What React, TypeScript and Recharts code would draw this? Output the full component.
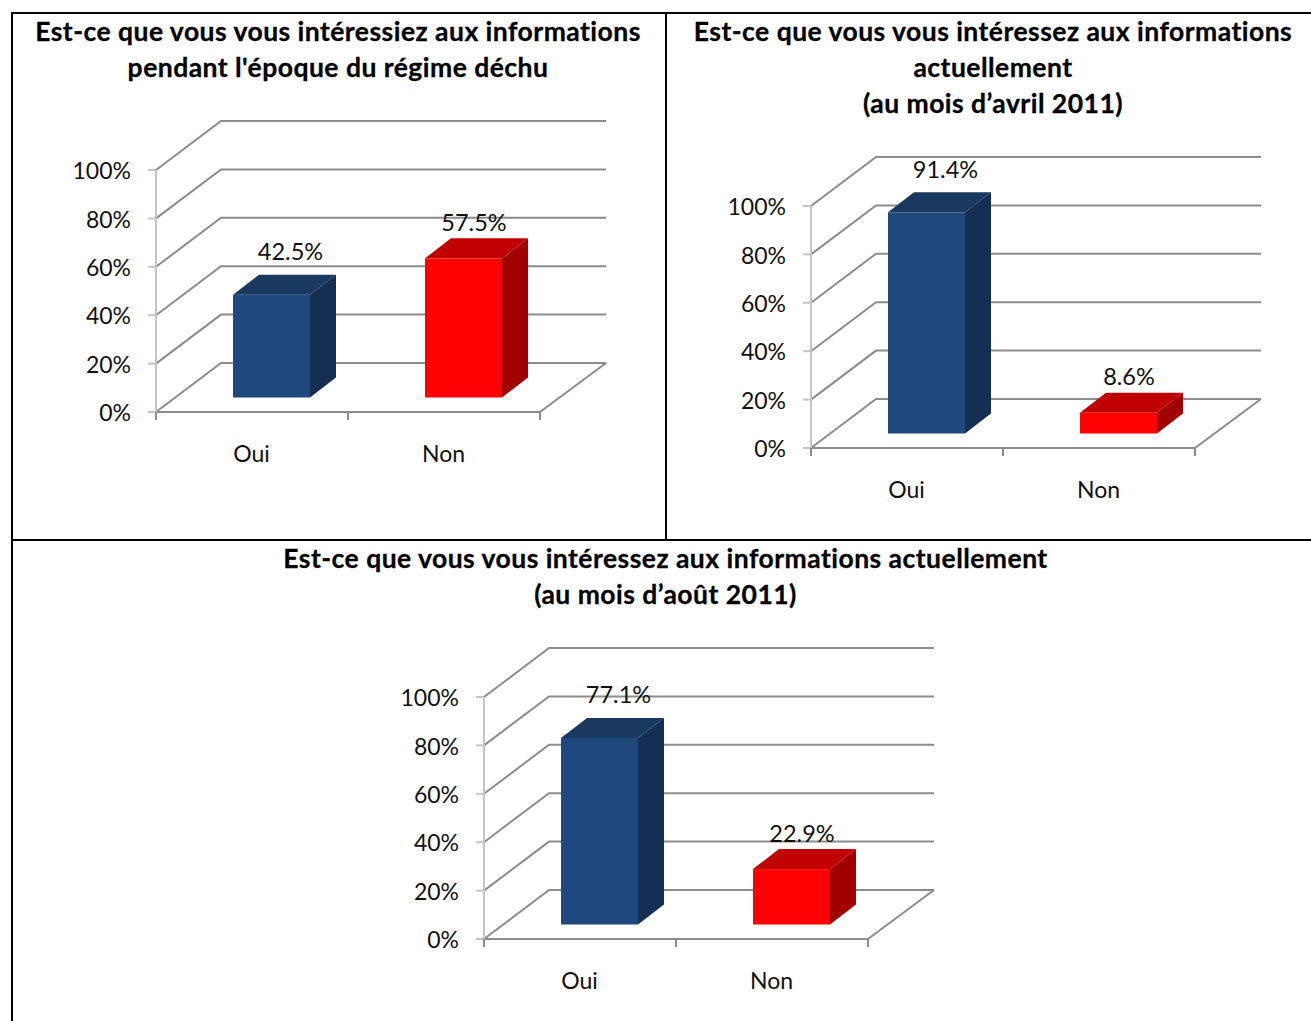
import React from "react";
import { BarChart, Bar, XAxis, YAxis, CartesianGrid, LabelList } from "recharts";

const categories = ["Oui", "Non"];
const avantValues = [42.5, 57.5];
const avrilValues = [91.4, 8.6];
const aoutValues = [77.1, 22.9];
const yTicks = [0, 20, 40, 60, 80, 100];

const titleAvant = ["Est-ce que vous vous intéressiez aux informations", "pendant l'époque du régime déchu"];
const titleAvril = ["Est-ce que vous vous intéressez aux informations", "actuellement", "(au mois d’avril 2011)"];
const titleAout = ["Est-ce que vous vous intéressez aux informations actuellement", "(au mois d’août 2011)"];

const frontColors = ["#1F497D", "#FF0000"];
const topColors = ["#1A3960", "#C00000"];
const sideColors = ["#152F52", "#A00000"];

const FONT = "Lato, sans-serif";
const PLOT_W = 384;
const PLOT_BOTTOM = 312;
const WALL_DX = 65;
const WALL_DY = -49;
const GRID_COLOR = "#8C8C8C";
const AXIS_COLOR = "#C4C4C4";

// one wall line per y tick, the 0% one also gets the floor's right edge
const wallLine = (props: any) => {
  const { x1, x2, y1, index } = props;
  const bx = x1 + WALL_DX;
  const by = y1 + WALL_DY;
  const isFloor = y1 >= PLOT_BOTTOM - 1;
  return (
    <g key={`wall-${index}`} fill="none" stroke={GRID_COLOR} strokeWidth={2}>
      <polyline points={`${x1},${y1} ${bx},${by} ${x2 + WALL_DX + 1},${by}`} />
      {isFloor && <line x1={x2} y1={y1} x2={x2 + WALL_DX + 1} y2={by} />}
    </g>
  );
};

const Cube = (props: any) => {
  const { x, y, width, height, index } = props;
  const x0 = x + 19;
  const x1 = x0 + width;
  const y0 = y - 14.5;
  const y1 = y0 + height;
  const dx = 26;
  const dy = -20;
  return (
    <g>
      <polygon points={`${x1},${y0} ${x1 + dx},${y0 + dy} ${x1 + dx},${y1 + dy} ${x1},${y1}`} fill={sideColors[index]} />
      <polygon points={`${x0},${y0} ${x0 + dx},${y0 + dy} ${x1 + dx},${y0 + dy} ${x1},${y0}`} fill={topColors[index]} />
      <rect x={x0} y={y0} width={width} height={height} fill={frontColors[index]} />
    </g>
  );
};

const barLabel = (props: any) => {
  const { x, y, width, value, index } = props;
  const ox = index === 0 ? 38 : 29.5;
  const oy = index === 0 ? -58 : -51;
  return (
    <text x={x + width / 2 + ox} y={y + oy} textAnchor="middle" dominantBaseline="central" fontFamily={FONT} fontSize={23.5} fill="#111">
      {`${Number(value).toFixed(1)}%`}
    </text>
  );
};

const CategoryTick = (props: any) => {
  const { x, y, payload } = props;
  const half = PLOT_W / 4;
  return (
    <g>
      <line x1={x - half} y1={y} x2={x - half} y2={y + 8} stroke={GRID_COLOR} strokeWidth={2} />
      <line x1={x + half} y1={y} x2={x + half} y2={y + 8} stroke={GRID_COLOR} strokeWidth={2} />
      <text x={x - 0.5} y={y + 41} textAnchor="middle" dominantBaseline="central" fontFamily={FONT} fontSize={23} fill="#111">
        {payload.value}
      </text>
    </g>
  );
};

function Chart3D({ values, left, top }: { values: number[]; left: number; top: number }) {
  const data = categories.map((name, i) => ({ name, value: values[i] }));
  return (
    <div style={{ position: "absolute", left, top }}>
      <BarChart width={600} height={390} data={data} margin={{ top: 70, right: 80, bottom: 18, left: 76 }} barSize={77}>
        <CartesianGrid horizontal={wallLine} vertical={false} />
        <XAxis
          dataKey="name"
          height={60}
          axisLine={{ stroke: GRID_COLOR, strokeWidth: 2 }}
          tickLine={false}
          tickSize={0}
          tickMargin={0}
          interval={0}
          tick={<CategoryTick />}
        />
        <YAxis
          width={60}
          domain={[0, 100]}
          ticks={yTicks}
          interval={0}
          tickFormatter={(v: number) => `${v}%`}
          axisLine={{ stroke: AXIS_COLOR, strokeWidth: 2 }}
          tickLine={{ stroke: AXIS_COLOR, strokeWidth: 2 }}
          tickSize={8}
          tickMargin={17}
          tick={{ fontFamily: FONT, fontSize: 23, fill: "#111", dy: 1 }}
        />
        <Bar dataKey="value" isAnimationActive={false} shape={Cube}>
          <LabelList dataKey="value" content={barLabel} />
        </Bar>
      </BarChart>
    </div>
  );
}

function Title({ lines, center, top }: { lines: string[]; center: number; top: number }) {
  return (
    <div
      style={{
        position: "absolute",
        left: center - 400,
        top,
        width: 800,
        textAlign: "center",
        fontFamily: FONT,
        fontWeight: 700,
        fontSize: 26.5,
        letterSpacing: 0.47,
        lineHeight: "36px",
        color: "#000",
        WebkitTextStroke: "0.3px #000",
      }}
    >
      {lines.map((l) => (
        <div key={l}>{l}</div>
      ))}
    </div>
  );
}

const Rule = ({ x, y, w, h }: { x: number; y: number; w: number; h: number }) => (
  <div style={{ position: "absolute", left: x, top: y, width: w, height: h, background: "#000" }} />
);

export default function App() {
  return (
    <div style={{ position: "fixed", left: 0, top: 0, width: 1311, height: 1021, overflow: "hidden", background: "#fff" }}>
      <Rule x={11} y={12} w={1300} h={2} />
      <Rule x={11} y={12} w={2} h={1009} />
      <Rule x={665} y={12} w={2} h={528} />
      <Rule x={11} y={539} w={1300} h={2} />

      <Chart3D values={avantValues} left={20} top={100} />
      <Chart3D values={avrilValues} left={675} top={136} />
      <Chart3D values={aoutValues} left={348} top={627} />

      <Title lines={titleAvant} center={338} top={13} />
      <Title lines={titleAvril} center={993} top={13} />
      <Title lines={titleAout} center={665.5} top={540} />
    </div>
  );
}
